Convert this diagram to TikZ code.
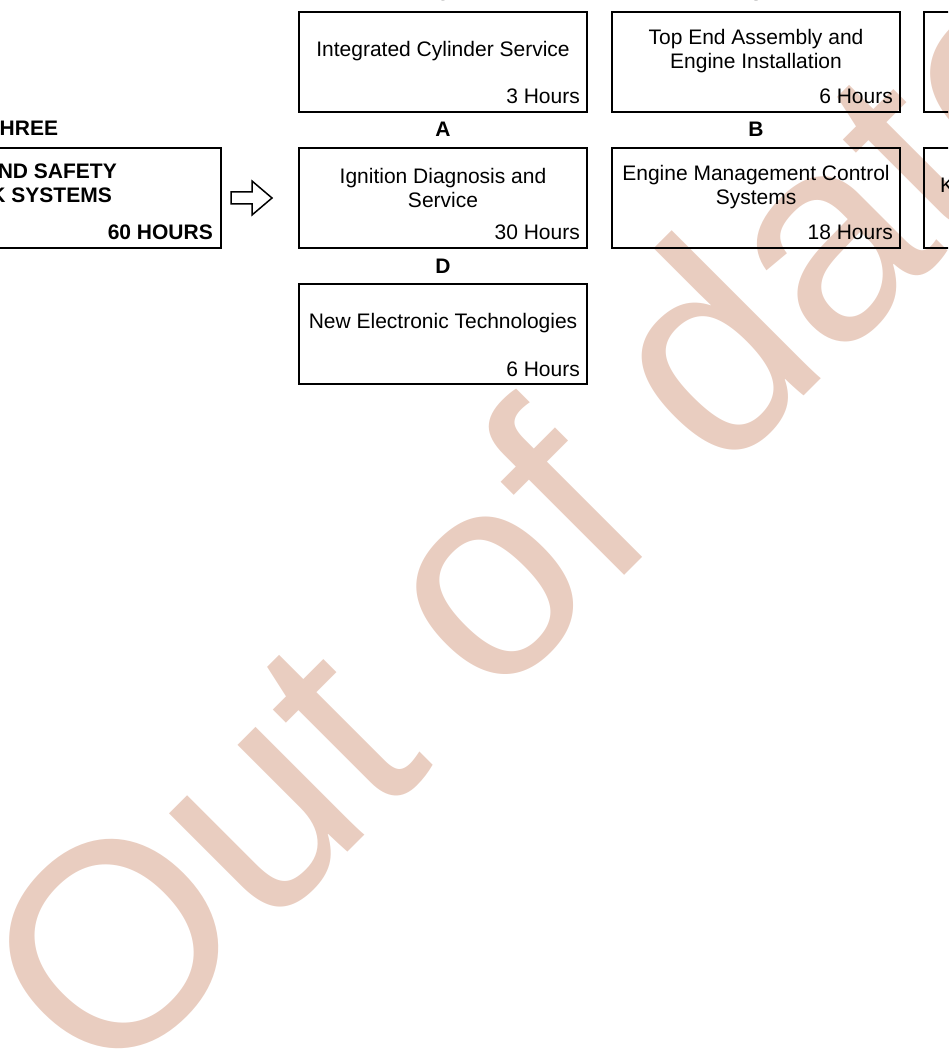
\documentclass[tikz,border=0pt]{standalone}
\usepackage{fontspec}
\setmainfont{Liberation Sans}
\usepackage{tikz}
\usetikzlibrary{positioning}
\definecolor{stampred}{RGB}{233,205,192}

\begin{document}
\begin{tikzpicture}[x=1pt, y=-1pt,
  every node/.style = {font=\fontsize{21}{24}\selectfont, inner sep=0pt},
  unit/.style  = {draw, line width=2pt, outer sep=0pt,
                  minimum width=288pt, minimum height=100pt},
  title/.style = {align=center},
  hrs/.style   = {anchor=base east},
  tag/.style   = {anchor=base, font=\fontsize{21}{24}\selectfont\bfseries},
  blk/.style   = {font=\fontsize{21}{24}\selectfont\bfseries},
  stamp/.style = {text=stampred, rotate=45, anchor=base west,
                  font=\fontsize{290}{290}\selectfont},
]

\useasboundingbox (0,0) rectangle (948,1056);
\clip (0,0) rectangle (948,1056);

%% ── Watermark ────────────────────────────────────────────────────────────────
\node[stamp] (stamp) at (105,1095) {Out of date};

%% ── Column / row centres ─────────────────────────────────────────────────────
\def\cL{77}    % left (module) box
\def\cA{443}   % column A / D
\def\cB{756}   % column B
\def\cC{1068}  % third column
\def\rA{62}
\def\rB{198}
\def\rC{334}

%% ── Module box ───────────────────────────────────────────────────────────────
\node[blk, anchor=base west] (modtag) at (-0.5,136) {HREE};
\node[unit] (sys) at (\cL,\rB) {};
\node[blk, anchor=base east] (sysa) at (117,179) {ND SAFETY};
\node[blk, anchor=base east] (sysb) at (112,203) {K SYSTEMS};
\node[blk, hrs] (syshrs) at ([xshift=-8pt,yshift=8pt]sys.south east) {60 HOURS};

\draw[line width=1.5pt, line join=miter, shift={(sys.east)}]
  (10,-6) -- (31,-6) -- (31,-17) -- (51,0) -- (31,17) -- (31,6) -- (10,6) -- cycle;

%% ── Top row ──────────────────────────────────────────────────────────────────
\node[unit] (cyl) at (\cA,\rA) {};
\node[tag] at ([yshift=11pt]cyl.north) {G};
\node[title] at ([yshift=-39.5pt]cyl.north) {Integrated Cylinder Service};
\node[hrs] at ([xshift=-7pt,yshift=8pt]cyl.south east) {3 Hours};

\node[unit] (top) at (\cB,\rA) {};
\node[tag] at ([yshift=11pt]top.north) {S};
\node[title] at ([yshift=-39.5pt]top.north) {Top End Assembly and\\Engine Installation};
\node[hrs] at ([xshift=-7pt,yshift=8pt]top.south east) {6 Hours};

\node[unit] (thirda) at (\cC,\rA) {};

%% ── Middle row ───────────────────────────────────────────────────────────────
\node[unit] (ign) at (\cA,\rB) {};
\node[tag] at ([yshift=11pt]ign.north) {A};
\node[title] at ([yshift=-39.5pt]ign.north) {Ignition Diagnosis and\\Service};
\node[hrs] at ([xshift=-7pt,yshift=8pt]ign.south east) {30 Hours};

\node[unit] (emc) at (\cB,\rB) {};
\node[tag] at ([yshift=11pt]emc.north) {B};
\node[title] at ([yshift=-39.5pt]emc.north) {Engine Management Control\\Systems};
\node[hrs] at ([xshift=-7pt,yshift=8pt]emc.south east) {18 Hours};

\node[unit] (thirdb) at (\cC,\rB) {};
\node[anchor=base west] at (940,193) {K};

%% ── Bottom row ───────────────────────────────────────────────────────────────
\node[unit] (net) at (\cA,\rC) {};
\node[tag] at ([yshift=11pt]net.north) {D};
\node[title] at ([yshift=-39.5pt]net.north) {New Electronic Technologies};
\node[hrs] at ([xshift=-7pt,yshift=8pt]net.south east) {6 Hours};

\end{tikzpicture}
\end{document}
